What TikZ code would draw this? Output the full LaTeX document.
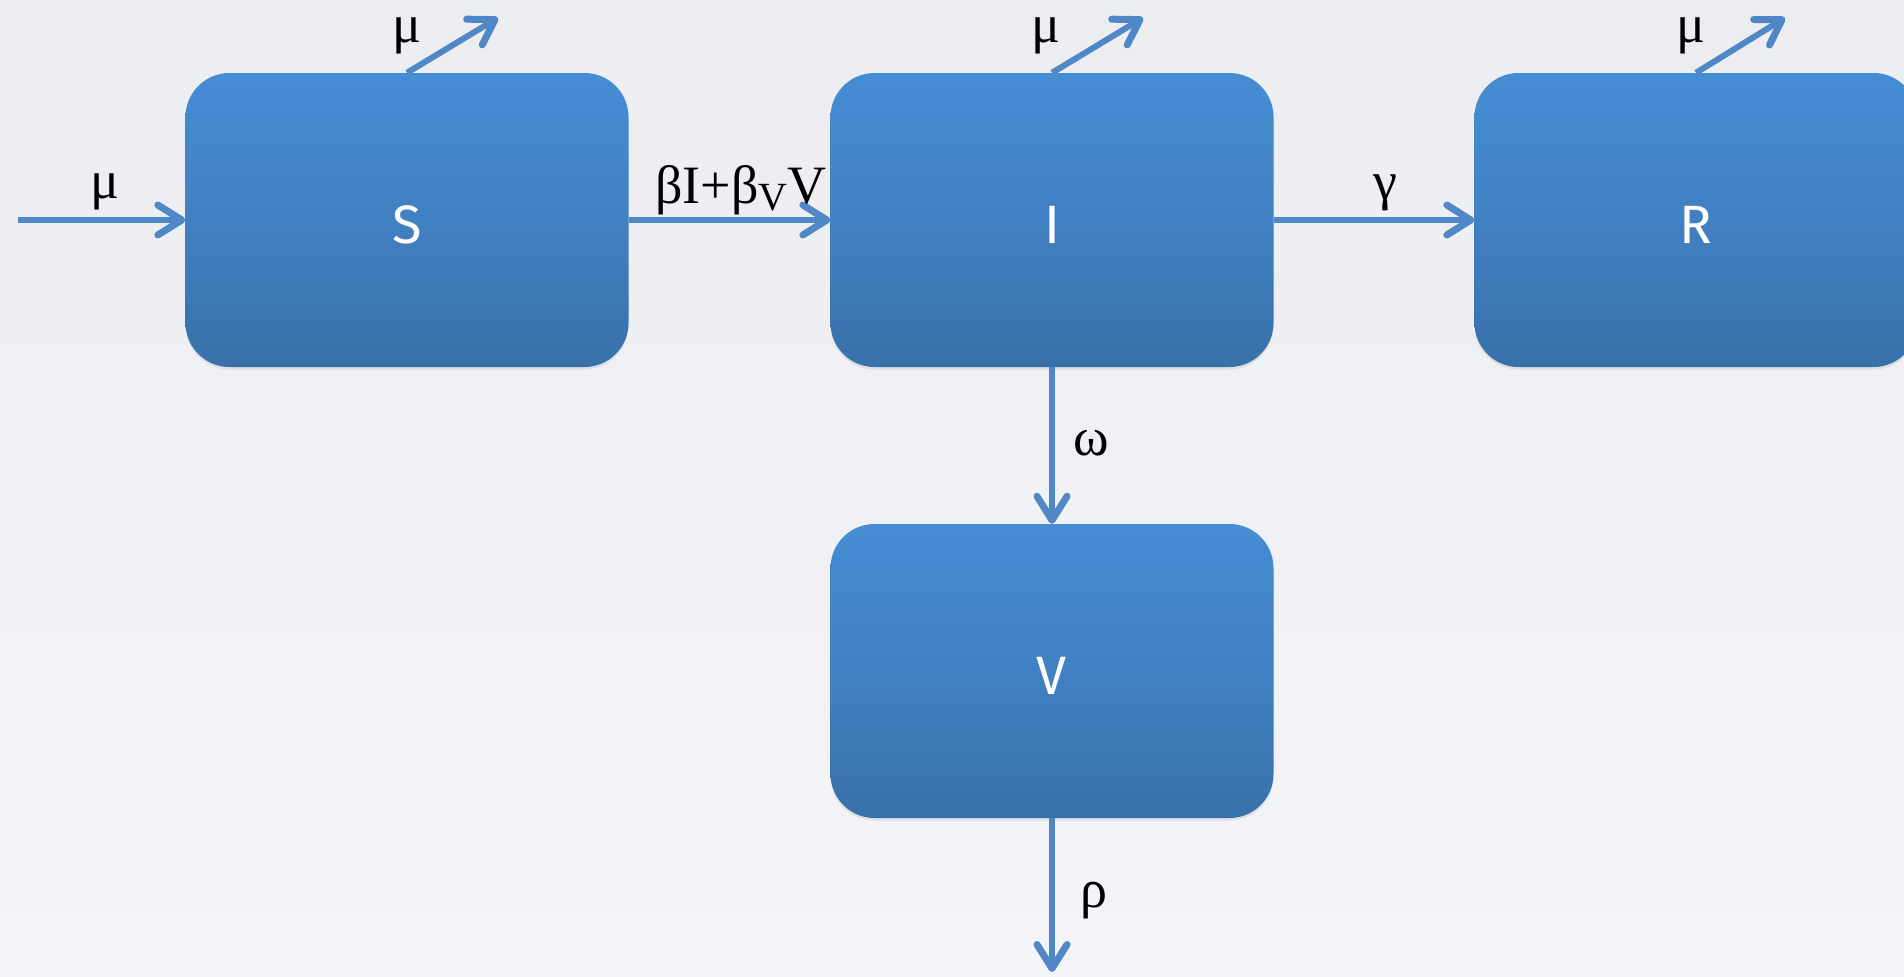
\documentclass[tikz,border=0pt]{standalone}
\usepackage{fontspec}
\setmainfont{Liberation Serif}
\newfontfamily\boxfont{Fira Sans}
\usetikzlibrary{arrows.meta,shadows}
\definecolor{bgtop}{RGB}{235,237,240}
\definecolor{bgbot}{RGB}{243,244,247}
\definecolor{boxtop}{RGB}{69,141,212}
\definecolor{boxmid}{RGB}{65,128,194}
\definecolor{boxbot}{RGB}{56,113,170}
\definecolor{flowblue}{RGB}{80,135,198}
\begin{document}
\begin{tikzpicture}[x=1pt,y=-1pt,
  compartment/.style={rounded corners=44pt, minimum width=443pt, minimum height=294pt,
    top color=boxtop, bottom color=boxbot, middle color=boxmid, draw=none,
    text=white, font=\boxfont\fontsize{54}{60}\selectfont,
    text height=46pt, text depth=0pt, inner sep=0pt,
    drop shadow={shadow xshift=0pt, shadow yshift=-2.5pt, opacity=0.15}},
  flowarrow/.style={draw=flowblue, line width=6pt,
    -{Straight Barb[length=24pt,width=30pt,line width=7pt,round]}},
  rate/.style={font=\fontsize{54}{60}\selectfont, inner sep=0pt, anchor=base}
]
\useasboundingbox (0,0) rectangle (1904,977);
\clip (0,0) rectangle (1904,977);
\fill[top color=bgtop, bottom color=bgbot] (0,0) rectangle (1904,977);

% compartments
\node[compartment] (S) at (407,220) {S};
\node[compartment] (I) at (1052,220) {I};
\node[compartment] (R) at (1696,220) {R};
\node[compartment] (V) at (1052,671) {V};

% free ends of the inflow and outflows
\coordinate (src) at (18,220);
\coordinate (sink) at (1052,972);
\path (S.north) ++(91,-55) coordinate (Sout);
\path (I.north) ++(91,-55) coordinate (Iout);
\path (R.north) ++(89,-55) coordinate (Rout);

% flows
\draw[flowarrow] (src) -- (S.west);
\draw[flowarrow] (S.east) -- (I.west);
\draw[flowarrow] (I.east) -- (R.west);
\draw[flowarrow] (I.south) -- (V.north);
\draw[flowarrow] (V.south) -- (sink);
\draw[flowarrow] (S.north) -- (Sout);
\draw[flowarrow] (I.north) -- (Iout);
\draw[flowarrow] (R.north) -- (Rout);

% rates
\node[rate] (muin) at (105,198) {μ};
\node[rate] (muS) at (407,42) {μ};
\node[rate] (muI) at (1046,42) {μ};
\node[rate] (muR) at (1691,42) {μ};
\node[rate, anchor=base west] (beta) at (655,203) {βI+β\raisebox{-7pt}{\fontsize{40}{44}\selectfont V}V};
\node[rate] (gam) at (1385,199) {γ};
\node[rate] (om) at (1091,455) {ω};
\node[rate] (rho) at (1094,907) {ρ};
\end{tikzpicture}
\end{document}
